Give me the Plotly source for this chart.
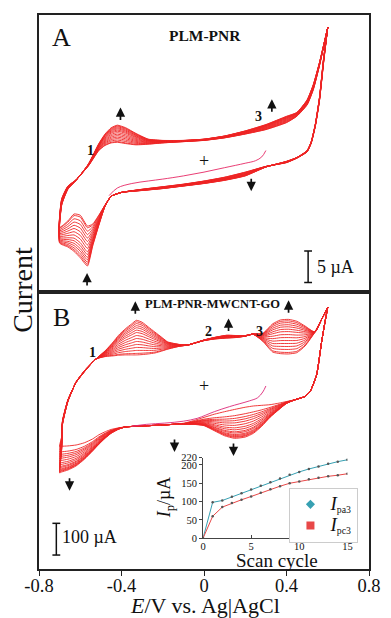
import plotly.graph_objects as go

# ---------------- Panel A (PLM-PNR) : potential (V) / current (uA) ----------------
A_E_anodic = [-0.70, -0.69, -0.66, -0.62, -0.56, -0.51, -0.48, -0.45, -0.42, -0.38, -0.33, -0.27,
              -0.20, -0.10, 0.00, 0.10, 0.20, 0.30, 0.40, 0.45, 0.50, 0.53, 0.56, 0.60]
A_first_anodic = [-10.5, -6.0, -4.0, -3.0, -0.8, 1.6, 2.4, 2.8, 2.9, 2.7, 2.5, 2.6,
                  2.8, 3.0, 3.2, 3.6, 4.2, 4.9, 6.0, 7.0, 8.8, 11.2, 15.0, 21.0]
A_last_anodic = [-13.0, -7.0, -4.5, -3.1, -0.5, 2.7, 4.2, 5.2, 5.6, 5.2, 4.3, 3.4,
                 3.2, 3.2, 3.4, 3.9, 4.7, 5.7, 7.0, 7.6, 9.6, 12.0, 15.5, 21.0]

A_E_cath = [0.60, 0.58, 0.56, 0.54, 0.52, 0.50, 0.45, 0.40, 0.30, 0.20, 0.10, 0.00, -0.10, -0.20,
            -0.30, -0.40, -0.45, -0.48, -0.51, -0.54, -0.565, -0.60, -0.63, -0.66, -0.70]
A_first_cath = [21.0, 15.5, 9.5, 5.5, 2.8, 1.4, 0.4, -0.3, -0.9, -1.8, -2.6, -3.2, -3.7, -4.1,
                -4.5, -5.0, -5.6, -7.0, -8.6, -10.0, -10.3, -8.6, -8.4, -9.5, -10.5]
A_last_cath = [21.0, 16.2, 10.0, 5.8, 3.0, 1.6, 0.5, -0.1, -1.0, -2.4, -3.1, -3.6, -4.0, -4.4,
               -4.7, -5.0, -5.6, -7.2, -10.2, -13.5, -16.6, -15.3, -14.3, -13.6, -13.0]

A_E_start = [0.30, 0.28, 0.25, 0.20, 0.10, 0.00, -0.10, -0.20, -0.27, -0.35, -0.42, -0.46]
A_I_start = [1.6, 0.6, 0.0, -0.4, -1.1, -1.8, -2.4, -2.9, -3.2, -3.6, -4.3, -5.5]

# ---------------- Panel B (PLM-PNR-MWCNT-GO) ----------------
B_E_anodic = [-0.70, -0.69, -0.686, -0.66, -0.62, -0.572, -0.524, -0.476, -0.44, -0.414, -0.38, -0.352,
              -0.328, -0.30, -0.27, -0.238, -0.20, -0.176, -0.12, -0.08, 0.0, 0.05, 0.11, 0.16, 0.20,
              0.238, 0.285, 0.333, 0.37, 0.41, 0.45, 0.49, 0.538, 0.57, 0.60]
B_first_anodic = [-191, -160, -110, -45, 10, 50, 84, 92, 94, 96, 97, 97,
                  97, 98, 100, 103, 110, 115, 124, 128, 142, 147, 150, 152, 156,
                  162, 140, 106, 101, 100, 104, 125, 169, 209, 247]
B_last_anodic = [-275, -200, -122, -50, 12, 53, 84, 112, 138, 159, 180, 194,
                 206, 200, 185, 169, 150, 138, 130, 128, 144, 152, 159, 158, 158,
                 163, 165, 195, 207, 209, 203, 188, 169, 209, 247]

B_E_cath = [0.60, 0.585, 0.57, 0.546, 0.514, 0.49, 0.443, 0.40, 0.364, 0.32, 0.28, 0.24, 0.20, 0.148,
            0.10, 0.05, 0.0, -0.05, -0.095, -0.15, -0.20, -0.30, -0.38, -0.414, -0.45, -0.478, -0.51,
            -0.54, -0.58, -0.62, -0.66, -0.69, -0.70]
B_first_cath = [247, 195, 137, 34, -19, -34, -44, -50, -55, -60, -62, -64, -68, -75,
                -82, -90, -100, -110, -118, -122, -124, -127, -130, -133, -138, -145, -155,
                -168, -180, -187, -190, -191, -191]
B_last_cath = [247, 195, 137, 34, -19, -34, -44, -56, -75, -100, -128, -150, -162, -166,
               -158, -142, -126, -122, -122, -122, -124, -127, -130, -137, -150, -165, -185,
               -206, -232, -253, -266, -272, -275]

B_E_start = [0.30, 0.285, 0.26, 0.22, 0.124, 0.05, -0.033, -0.10, -0.19, -0.28, -0.35]
B_I_start = [-1, -20, -38, -48, -66, -82, -103, -112, -118, -122, -128]

# ---------------- Inset: peak currents vs scan cycle ----------------
cycles = list(range(0, 16))
Ipa3 = [0, 98, 103, 113, 123, 133, 143, 153, 163, 173, 181, 189, 196, 203, 209, 214]
Ipc3 = [0, 60, 85, 96, 105, 114, 124, 134, 142, 150, 155, 161, 165, 169, 172, 176]

FONT = "Liberation Serif"
RED = "rgb(238,38,38)"

fig = go.Figure()

wa = [(Ipa3[k] - Ipa3[1]) / (Ipa3[15] - Ipa3[1]) for k in range(1, 16)]
wc = [(Ipc3[k] - Ipc3[1]) / (Ipc3[15] - Ipc3[1]) for k in range(1, 16)]


def add_cycles(Ea, fa, la, Ec, fc, lc, xa, ya, wan, wca):
    for i in range(15):
        a = [f + wan[i] * (l - f) for f, l in zip(fa, la)]
        c = [f + wca[i] * (l - f) for f, l in zip(fc, lc)]
        fig.add_trace(go.Scatter(x=Ea + Ec, y=a + c, mode="lines", xaxis=xa, yaxis=ya,
                                 line=dict(color=RED, width=0.9, shape="spline", smoothing=0.5),
                                 showlegend=False, hoverinfo="skip"))


add_cycles(A_E_anodic, A_first_anodic, A_last_anodic, A_E_cath, A_first_cath, A_last_cath,
           "x2", "y", wa, wa)
fig.add_trace(go.Scatter(x=A_E_start, y=A_I_start, mode="lines", xaxis="x2", yaxis="y",
                         line=dict(color="rgb(230,40,100)", width=0.9, shape="spline"),
                         showlegend=False))
add_cycles(B_E_anodic, B_first_anodic, B_last_anodic, B_E_cath, B_first_cath, B_last_cath,
           "x", "y2", wa, wc)
fig.add_trace(go.Scatter(x=B_E_start, y=B_I_start, mode="lines", xaxis="x", yaxis="y2",
                         line=dict(color="rgb(220,40,120)", width=0.9, shape="spline"),
                         showlegend=False))

# inset
BLUE = "rgb(55,160,178)"
RED2 = "rgb(232,72,72)"
fig.add_trace(go.Scatter(x=cycles, y=Ipa3, mode="lines+markers", xaxis="x3", yaxis="y3",
                         line=dict(color=BLUE, width=1), marker=dict(size=2.5, color="#555"),
                         showlegend=False))
fig.add_trace(go.Scatter(x=cycles, y=Ipc3, mode="lines+markers", xaxis="x3", yaxis="y3",
                         line=dict(color=RED2, width=1), marker=dict(size=2.5, color="#555"),
                         showlegend=False))
BIG_I = '<span style="font-size:19px"><i>I</i></span>'
fig.add_trace(go.Scatter(x=[None], y=[None], mode="markers", xaxis="x3", yaxis="y3",
                         marker=dict(symbol="diamond", size=7, color=BLUE),
                         name=BIG_I + "<sub>pa3</sub>"))
fig.add_trace(go.Scatter(x=[None], y=[None], mode="markers", xaxis="x3", yaxis="y3",
                         marker=dict(symbol="square", size=8, color=RED2),
                         name=BIG_I + "<sub>pc3</sub>"))

split = (569 - 290) / 559
frame = dict(showline=True, linecolor="#222", linewidth=1.6, mirror=True,
             showgrid=False, zeroline=False)

ann = []


def txt(x, y, t, xr, yr, size, bold=False, xanchor="center", **kw):
    ann.append(dict(x=x, y=y, xref=xr, yref=yr, text=("<b>%s</b>" % t) if bold else t,
                    showarrow=False, xanchor=xanchor, yanchor="middle",
                    font=dict(family=FONT, size=size, color="#111"), **kw))


def arrow(x, y, xr, yr, up=True):
    ann.append(dict(x=x, y=y, xref=xr, yref=yr, ax=0, ay=14 if up else -14, text="",
                    showarrow=True, arrowhead=2, arrowsize=1.1, arrowwidth=1.7,
                    arrowcolor="#111"))


# Panel A texts
txt(-0.69, 19.5, "A", "x2", "y", 26)
txt(0.005, 19.8, "PLM-PNR", "x2", "y", 15.5, bold=True)
txt(-0.552, 1.6, "1", "x2", "y", 14, bold=True)
txt(0.262, 6.9, "3", "x2", "y", 14, bold=True)
txt(0.0, 0.0, "+", "x2", "y", 18)
txt(0.538, -16.7, "5 µA", "x2", "y", 18, xanchor="left")
arrow(-0.405, 8.4, "x2", "y")
arrow(0.329, 9.7, "x2", "y")
arrow(0.229, -4.8, "x2", "y", up=False)
arrow(-0.567, -17.7, "x2", "y")

# Panel B texts
txt(-0.692, 215, "B", "x", "y2", 26)
txt(0.043, 257, "PLM-PNR-MWCNT-GO", "x", "y2", 12.5, bold=True)
txt(-0.541, 106, "1", "x", "y2", 14, bold=True)
txt(0.022, 171, "2", "x", "y2", 14, bold=True)
txt(0.271, 171, "3", "x", "y2", 14, bold=True)
txt(0.0, 0.0, "+", "x", "y2", 18)
txt(-0.70, -477, "100 µA", "x", "y2", 18, xanchor="left")
arrow(-0.333, 266, "x", "y2")
arrow(0.119, 212, "x", "y2")
arrow(0.41, 269, "x", "y2")
arrow(-0.143, -209, "x", "y2", up=False)
arrow(0.143, -222, "x", "y2", up=False)
arrow(-0.652, -331, "x", "y2", up=False)

# inset titles
txt((281 - 39) / 336, (569 - 560) / 559, "Scan cycle", "paper", "paper", 19)
txt((168 - 39) / 336, (569 - 497) / 559, "<i>I</i><sub>p</sub>/µA", "paper", "paper", 18,
    textangle=-90)

# main titles
txt((22 - 39) / 336, (569 - 287) / 559, "Current", "paper", "paper", 28, textangle=-90)
txt((208 - 39) / 336, (569 - 606) / 559, "<i>E</i>/V vs. Ag|AgCl", "paper", "paper", 22)

shapes = []
for (xc, y0, y1, xr, yr, dx) in [(0.5048, -14.22, -19.22, "x2", "y", 0.019),
                                 (-0.716, -434, -534, "x", "y2", 0.019)]:
    shapes.append(dict(type="line", x0=xc, x1=xc, y0=y0, y1=y1, xref=xr, yref=yr,
                       line=dict(color="#111", width=1.5)))
    for yy in (y0, y1):
        shapes.append(dict(type="line", x0=xc - dx, x1=xc + dx, y0=yy, y1=yy, xref=xr, yref=yr,
                           line=dict(color="#111", width=1.5)))

fig.update_layout(
    width=391, height=618, margin=dict(l=39, r=16, t=10, b=49),
    paper_bgcolor="white", plot_bgcolor="white",
    font=dict(family=FONT, color="#111"),
    xaxis=dict(domain=[0, 1], range=[-0.8, 0.8], anchor="y2", ticks="outside", ticklen=5,
               tickwidth=1.3, tickcolor="#222", tickvals=[-0.8, -0.4, 0, 0.4, 0.8],
               ticktext=["-0.8", "-0.4", "0", "0.4", "0.8"], tickfont=dict(size=18.5),
               ticklabelstandoff=-6, **frame),
    xaxis2=dict(domain=[0, 1], range=[-0.8, 0.8], anchor="y", showticklabels=False, ticks="",
                **frame),
    yaxis=dict(domain=[split, 1], range=[-20.78, 22.97], showticklabels=False, ticks="", **frame),
    yaxis2=dict(domain=[0, split], range=[-578, 293.75], showticklabels=False, ticks="", **frame),
    xaxis3=dict(domain=[(206 - 39) / 336, (353 - 39) / 336], range=[0, 15], anchor="y3",
                showline=True, linecolor="#444", linewidth=1, ticks="inside", ticklen=3,
                tickvals=[0, 5, 10, 15], tickfont=dict(size=10.5), showgrid=False,
                zeroline=False, ticklabelstandoff=-2),
    yaxis3=dict(domain=[(569 - 538) / 559, (569 - 456.6) / 559], range=[0, 220], anchor="x3",
                showline=True, linecolor="#444", linewidth=1, ticks="outside", ticklen=3,
                tickvals=[0, 50, 100, 150, 200, 220], tickfont=dict(size=10.5), showgrid=False,
                zeroline=False),
    showlegend=True,
    legend=dict(x=(294 - 39) / 336, y=(569 - 487) / 559, xanchor="left", yanchor="top",
                bgcolor="white", bordercolor="#ccc", borderwidth=1,
                font=dict(family=FONT, size=14), itemwidth=30, tracegroupgap=0),
    annotations=ann, shapes=shapes,
)

fig.write_html("out.html", config={"displayModeBar": False},
               post_script="document.body.style.margin='0';document.body.style.overflow='hidden';")
